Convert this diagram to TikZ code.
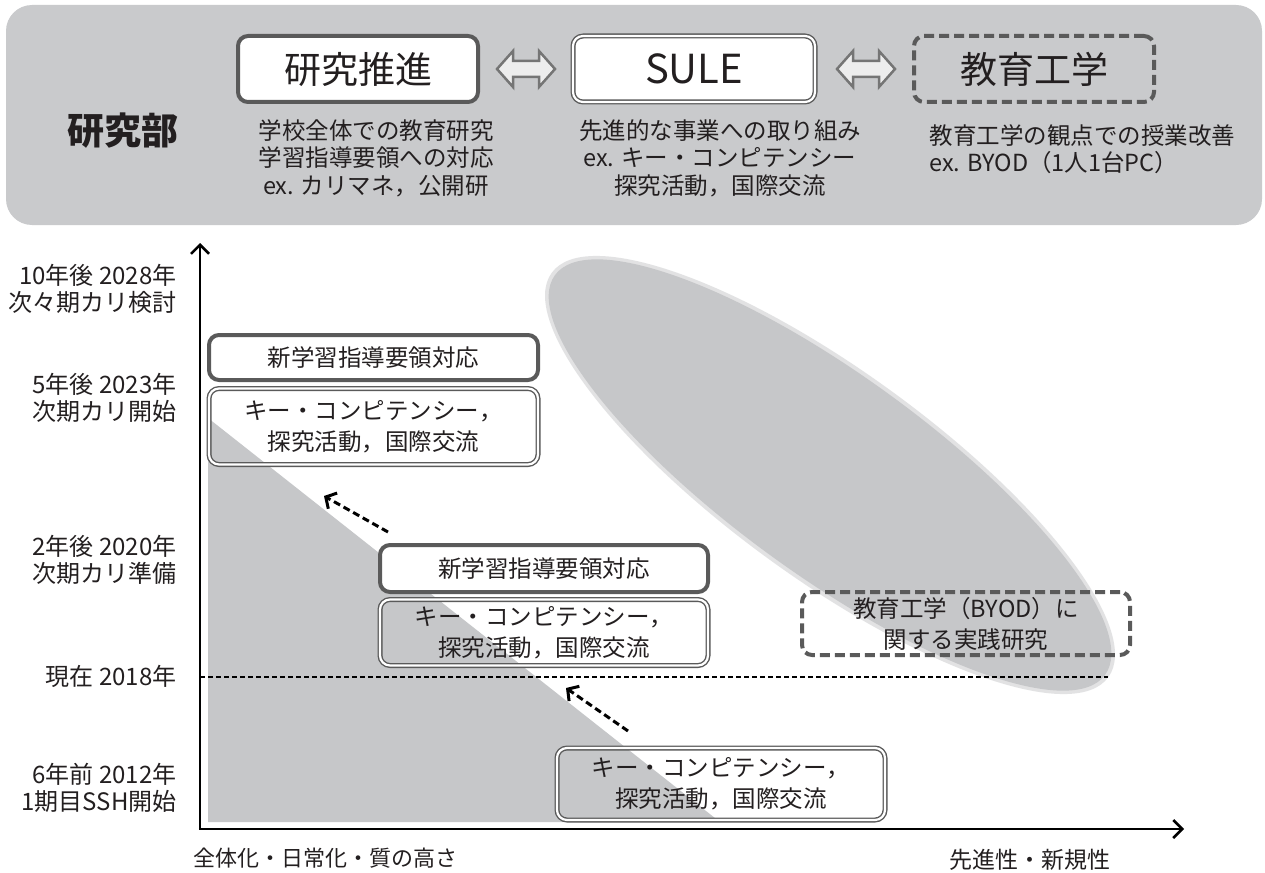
\documentclass[tikz,border=0pt]{standalone}
\usepackage{fontspec}
\setmainfont{Noto Sans CJK JP}
\usetikzlibrary{arrows.meta}
\definecolor{panel}{HTML}{C9CACC}
\definecolor{shadegray}{HTML}{C6C7C9}
\definecolor{edge}{HTML}{5A5A5A}
\definecolor{ink}{HTML}{231F20}
\definecolor{arrfill}{HTML}{EDEDED}
\definecolor{arredge}{HTML}{757575}
\begin{document}
\begin{tikzpicture}[x=1pt,y=-1pt,
  every node/.style={text=ink},
  solidbox/.style={draw=edge, line width=4pt, rounded corners=10pt, fill=white, inner sep=0pt, align=center},
  dblbox/.style={draw=edge, double=white, double distance=2.2pt, line width=1.4pt, rounded corners=10pt, inner sep=0pt, align=center},
  dashbox/.style={draw=edge, line width=4pt, dash pattern=on 10pt off 5pt, rounded corners=10pt, inner sep=0pt, align=center},
  big/.style={font=\fontsize{37}{42}\selectfont},
  desc/.style={font=\fontsize{23.5}{27.5}\selectfont, align=center},
  boxtext/.style={font=\fontsize{23.5}{31}\selectfont},
  ylab/.style={font=\fontsize{24}{27}\selectfont, align=right, anchor=east},
  hollow/.style={fill=arrfill, draw=arredge, line width=2.5pt, line join=miter},
  dasharrow/.style={line width=3pt, dash pattern=on 7pt off 4pt, -{Straight Barb[length=8pt,width=18pt,line width=3pt]}},
  axis/.style={line width=2.5pt, -{Straight Barb[length=9pt,width=18pt,line width=2.5pt]}},
  pics/dblarrow/.style={code={
    \draw[hollow] (-29,0) -- (-13,-18) -- (-13,-8) -- (13,-8) -- (13,-18) -- (29,0)
      -- (13,18) -- (13,8) -- (-13,8) -- (-13,18) -- cycle;}}
]
\useasboundingbox (0,0) rectangle (1265,872);
\fill[white] (0,0) rectangle (1265,872);
% top panel
\fill[panel, rounded corners=26pt] (6,5) rectangle (1262,225);
\node[font=\fontsize{37}{42}\selectfont\bfseries] (dept) at (123,131) {研究部};
\node[solidbox, big, minimum width=240, minimum height=66] (b1) at (358,69) {研究推進};
\node[dblbox, big, fill=white, font=\fontsize{40}{44}\selectfont, minimum width=242, minimum height=66] (b2) at (694,69) {SULE};
\node[dashbox, big, minimum width=240, minimum height=66] (b3) at (1034,69) {教育工学};
\pic at (526,69) {dblarrow};
\pic at (866,69) {dblarrow};
\node[desc] (d1) at (376,158) {学校全体での教育研究\\学習指導要領への対応\\ex. カリマネ，公開研};
\node[desc] (d2) at (720,158) {先進的な事業への取り組み\\ex. キー・コンピテンシー\\探究活動，国際交流};
\node[desc, align=left, anchor=west] (d3) at (926,149) {教育工学の観点での授業改善\\ ex. BYOD（1人1台PC）};
% shaded regions
\fill[shadegray] (208,418) -- (208,822) -- (720,822) -- cycle;
\fill[shadegray, opacity=0.5, rotate around={-36:(830,475)}] (830,475) ellipse [x radius=344, y radius=104];
\fill[shadegray, rotate around={-36:(830,475)}] (830,475) ellipse [x radius=340, y radius=100];
% axes
\coordinate (O) at (200,829);
\coordinate (ytop) at (200,243);
\coordinate (xend) at (1184,829);
\draw[axis] (O) -- (ytop);
\draw[axis] ([xshift=-1.25pt]O) -- (xend);
\coordinate (nowL) at (200,677);
\coordinate (nowR) at (1108,677);
\draw[line width=1.2pt, dash pattern=on 5pt off 3pt] (nowL) -- (nowR);
% y labels
\node[ylab] (y1) at (180,289) {10年後 2028年\\次々期カリ検討};
\node[ylab] (y2) at (180,398) {5年後 2023年\\次期カリ開始};
\node[ylab] (y3) at (180,560) {2年後 2020年\\次期カリ準備};
\node[ylab] (y4) at (180,676) {現在 2018年};
\node[ylab] (y5) at (180,788) {6年前 2012年\\1期目SSH開始};
% x labels
\node[font=\fontsize{22}{25}\selectfont, anchor=west] (xl) at (190,858) {全体化・日常化・質の高さ};
\node[font=\fontsize{23}{25}\selectfont] (xr) at (1030,860) {先進性・新規性};
% boxes
\node[solidbox, boxtext, minimum width=329, minimum height=45] (a1) at (373.5,357.5) {新学習指導要領対応};
\node[dblbox, boxtext, minimum width=329, minimum height=76] (a2) at (373.5,426.5) {キー・コンピテンシー，\\探究活動，国際交流};
\node[solidbox, boxtext, minimum width=328, minimum height=47] (bb1) at (544,568.5) {新学習指導要領対応};
\node[dblbox, boxtext, minimum width=328, minimum height=66] (bb2) at (544,632.5) {キー・コンピテンシー，\\探究活動，国際交流};
\node[dblbox, boxtext, minimum width=328, minimum height=72] (c) at (721,784) {キー・コンピテンシー，\\探究活動，国際交流};
\node[dashbox, boxtext, minimum width=328, minimum height=63] (dd) at (966,623.5) {教育工学（BYOD）に\\関する実践研究};
% dashed arrows
\coordinate (p1s) at (388,532);
\coordinate (p1e) at (324,496);
\coordinate (p2s) at (628,731);
\coordinate (p2e) at (566,688);
\draw[dasharrow] (p1s) -- (p1e);
\draw[dasharrow] (p2s) -- (p2e);
\end{tikzpicture}
\end{document}
